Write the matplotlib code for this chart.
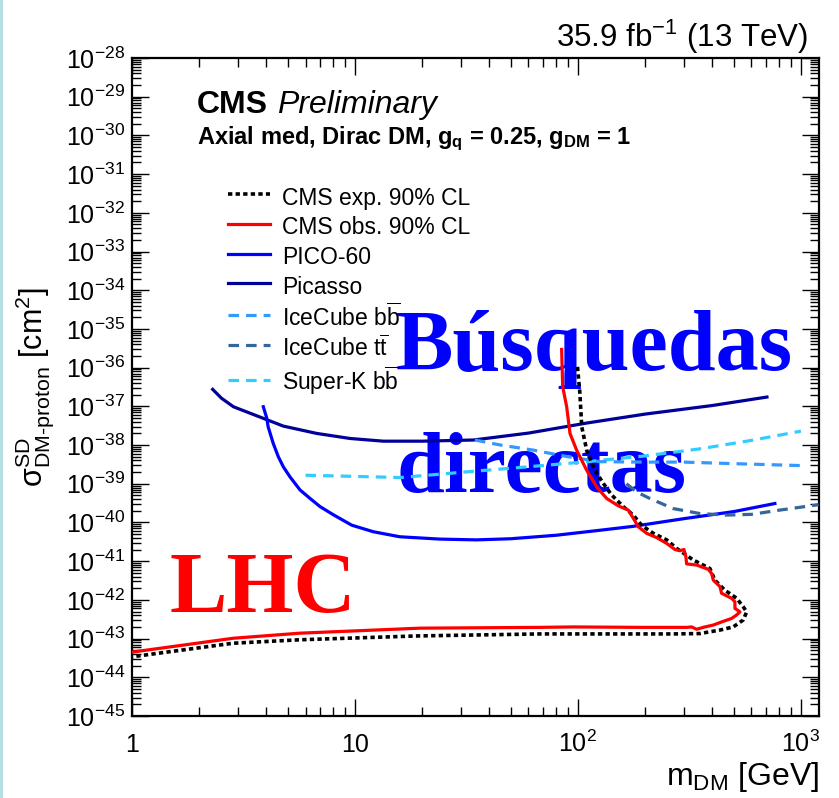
import numpy as np
import matplotlib
matplotlib.use("Agg")
import matplotlib.pyplot as plt
from matplotlib.lines import Line2D
from matplotlib.patches import Rectangle
from matplotlib.ticker import FixedLocator, FixedFormatter, LogLocator, NullFormatter

plt.rcParams['font.family'] = ['Liberation Sans', 'DejaVu Sans']
plt.rcParams['mathtext.fontset'] = 'custom'
plt.rcParams['mathtext.rm'] = 'Liberation Sans'
plt.rcParams['mathtext.it'] = 'Liberation Sans:italic'
plt.rcParams['mathtext.bf'] = 'Liberation Sans:bold'
plt.rcParams['mathtext.sf'] = 'Liberation Sans'
plt.rcParams['mathtext.default'] = 'regular'

# ---------------- data ----------------
picasso_m = [2.3, 2.52, 2.85, 3.88, 4.77, 6.73, 9.5, 13.4, 20, 34, 60, 110, 200, 400, 704]
picasso_s = [2.75e-37, 1.62e-37, 9.77e-38, 4.90e-38, 3.09e-38, 2.0e-38, 1.48e-38, 1.26e-38,
             1.26e-38, 1.35e-38, 2.04e-38, 3.72e-38, 6.31e-38, 1.05e-37, 1.74e-37]

pico_m = [3.88, 4.02, 4.08, 4.30, 4.53, 4.77, 5.11, 5.67, 6.29, 6.97, 8.0, 9.67, 12.1, 15.9,
          24, 35, 50, 80, 126, 177, 300, 500, 764]
pico_s = [9.77e-38, 5.01e-38, 2.95e-38, 1.10e-38, 5.01e-39, 2.75e-39, 1.51e-39, 6.92e-40,
          4.17e-40, 2.57e-40, 1.58e-40, 8.51e-41, 5.75e-41, 4.27e-41, 3.72e-41, 3.55e-41,
          3.80e-41, 4.68e-41, 6.31e-41, 7.94e-41, 1.26e-40, 1.91e-40, 3.09e-40]

superk_m = [6.0, 10, 16, 32, 60, 110, 200, 350, 600, 1000]
superk_s = [1.66e-39, 1.55e-39, 1.45e-39, 2.04e-39, 2.75e-39, 3.72e-39, 5.25e-39, 7.94e-39,
            1.32e-38, 2.29e-38]

icbb_m = [34.5, 45, 63, 90, 125, 200, 296, 500, 1000]
icbb_s = [1.35e-38, 1.0e-38, 7.41e-39, 5.01e-39, 3.72e-39, 3.63e-39, 3.63e-39, 3.31e-39, 2.95e-39]

ictt_m = [165, 183, 210, 267, 352, 464, 600, 805, 1200]
ictt_s = [1.0e-39, 6.17e-40, 4.17e-40, 2.29e-40, 1.70e-40, 1.55e-40, 1.62e-40, 2.09e-40, 2.88e-40]

obs_m = [84.5, 85.4, 89.0, 92.1, 98.6, 109.4, 121.3, 134.5, 151.7, 168.2, 177.0, 186.4, 203.2,
         225.3, 249.9, 272.3, 286.6, 298.7, 304.9, 307.1, 340.6, 383.9, 397.7, 404.5, 433.5,
         440.6, 488.5, 505.8, 505.8, 532.6, 514.6, 488.5, 440.6, 404.5, 364.6, 340.6, 323.5,
         307.1, 189.7, 95.3, 67.6, 19.6, 5.67, 2.84, 1.0]
obs_s = [2.95e-36, 3.24e-37, 9.77e-38, 2.00e-38, 7.41e-39, 2.24e-39, 8.32e-40, 4.17e-40,
         2.69e-40, 2.09e-40, 1.29e-40, 7.76e-41, 5.25e-41, 4.07e-41, 2.88e-41, 2.00e-41,
         1.86e-41, 2.00e-41, 1.29e-41, 8.51e-42, 7.94e-42, 6.17e-42, 4.79e-42, 3.24e-42,
         2.19e-42, 1.48e-42, 1.10e-42, 8.91e-43, 6.03e-43, 4.90e-43, 4.07e-43, 3.31e-43,
         2.69e-43, 2.24e-43, 1.95e-43, 1.74e-43, 2.00e-43, 1.95e-43, 1.95e-43, 2.00e-43,
         1.95e-43, 1.86e-43, 1.38e-43, 1.02e-43, 4.47e-44]

exp_m = [99.5, 102, 104, 109.4, 119, 130, 141.6, 159.7, 177, 192.9, 217.6, 249.9, 277, 329,
         390.8, 411, 456, 515, 551, 571, 551, 497, 433, 352, 267, 134.5, 67.6, 18.9, 5.67,
         2.84, 1.0]
exp_s = [1.05e-36, 2.19e-37, 2.95e-38, 7.41e-39, 2.24e-39, 1.02e-39, 5.13e-40, 2.57e-40,
         1.55e-40, 8.51e-41, 5.25e-41, 3.55e-41, 2.14e-41, 1.07e-41, 6.46e-42, 3.24e-42,
         1.78e-42, 1.10e-42, 6.61e-43, 4.90e-43, 3.02e-43, 2.00e-43, 1.66e-43, 1.35e-43,
         1.32e-43, 1.32e-43, 1.32e-43, 1.17e-43, 9.33e-44, 7.59e-44, 3.39e-44]

x_ticks = [1, 10, 100, 1000]
x_tick_labels = ['1', '10', r'$10^{2}$', r'$10^{3}$']
y_exponents = list(range(-45, -27))
y_ticks = [10.0 ** e for e in y_exponents]
y_tick_labels = [r'$10^{%d}$' % e for e in y_exponents]

legend_labels = ['CMS exp. 90% CL', 'CMS obs. 90% CL', 'PICO-60', 'Picasso',
                 r'IceCube b$\overline{b}$', r'IceCube t$\overline{t}$', r'Super-K b$\overline{b}$']

# ---------------- figure ----------------
W, H = 839, 798
fig = plt.figure(figsize=(W / 100, H / 100), dpi=100)
fig.patch.set_facecolor('white')
fig.patches.append(Rectangle((0, 0), 3 / W, 1, transform=fig.transFigure,
                             facecolor='#b6dfe4', edgecolor='none', zorder=-5))

def fx(px):
    return px / W

def fy(py):
    return 1 - py / H

ax = fig.add_axes([fx(132), fy(716), (819 - 132) / W, (716 - 58) / H])
ax.set_xscale('log')
ax.set_yscale('log')
ax.set_xlim(1, 1205)
ax.set_ylim(1e-45, 1e-28)

lw = 2.3
dash = (0, (3.3, 2.2))
dot = (0, (1.2, 0.9))
c_pico = '#0000ff'
c_picasso = '#000099'
c_icbb = '#3399ff'
c_ictt = '#336699'
c_superk = '#33ccff'
c_obs = '#ff0000'

ax.plot(picasso_m, picasso_s, color=c_picasso, lw=lw, zorder=3)
ax.plot(pico_m, pico_s, color=c_pico, lw=lw, zorder=3)
ax.plot(superk_m, superk_s, color=c_superk, lw=lw, ls=dash, zorder=3)
ax.plot(icbb_m, icbb_s, color=c_icbb, lw=lw, ls=dash, zorder=3)
ax.plot(ictt_m, ictt_s, color=c_ictt, lw=lw, ls=dash, zorder=3)
ax.plot(exp_m, exp_s, color='black', lw=2.6, ls=dot, zorder=4)
ax.plot(obs_m, obs_s, color=c_obs, lw=lw, zorder=5)

# axes styling
for sp in ax.spines.values():
    sp.set_linewidth(1.6)
ax.xaxis.set_major_locator(FixedLocator(x_ticks))
ax.xaxis.set_major_formatter(FixedFormatter(x_tick_labels))
ax.xaxis.set_minor_locator(LogLocator(base=10, subs=np.arange(2, 10), numticks=100))
ax.xaxis.set_minor_formatter(NullFormatter())
ax.yaxis.set_major_locator(FixedLocator(y_ticks))
ax.yaxis.set_major_formatter(FixedFormatter(y_tick_labels))
ax.yaxis.set_minor_locator(LogLocator(base=10, subs=np.arange(2, 10), numticks=100))
ax.yaxis.set_minor_formatter(NullFormatter())
ax.tick_params(which='both', direction='in', top=True, right=True, width=1.0, colors='black')
ax.tick_params(which='major', length=12.5)
ax.tick_params(which='minor', length=6.5)
ax.tick_params(axis='y', labelsize=18, pad=5)
ax.tick_params(axis='x', labelsize=18, pad=26)
for lbl in ax.get_xticklabels():
    lbl.set_verticalalignment('baseline')

ax.set_xlabel(r'm$_{DM}$ [GeV]', fontsize=23, ha='right')
ax.xaxis.set_label_coords(1.0, (716 - 760) / 658)
ax.set_ylabel(r'$\sigma^{SD}_{DM\text{-}proton}$ [cm$^{2}$]', fontsize=22, va='center')
ax.yaxis.set_label_coords((35 - 132) / 687, 0.5)

# texts
ax.text(fx(808), fy(47), r'35.9 fb$^{-1}$ (13 TeV)', transform=fig.transFigure,
        ha='right', va='baseline', fontsize=22.5)
ax.text(fx(197), fy(113), 'CMS', transform=fig.transFigure, ha='left', va='baseline',
        fontsize=23, fontweight='bold')
ax.text(fx(277), fy(113), 'Preliminary', transform=fig.transFigure, ha='left', va='baseline',
        fontsize=23, fontstyle='italic')
ax.text(fx(197), fy(144), r'Axial med, Dirac DM, g$_{\mathbf{q}}$ = 0.25, g$_{\mathbf{DM}}$ = 1',
        transform=fig.transFigure, ha='left', va='baseline', fontsize=17, fontweight='bold')

big = dict(transform=fig.transFigure, ha='left', va='baseline', fontweight='bold',
           family=['Liberation Serif', 'DejaVu Serif'], zorder=1)
ax.text(fx(396), fy(370), 'Búsquedas', fontsize=62, color='#0000ff', **big)
ax.text(fx(396), fy(492), 'directas', fontsize=62, color='#0000ff', **big)
ax.text(fx(170), fy(612), 'LHC', fontsize=62, color='#ff0000', **big)

# legend
handles = [
    Line2D([], [], color='black', lw=2.6, ls=dot),
    Line2D([], [], color=c_obs, lw=lw),
    Line2D([], [], color=c_pico, lw=lw),
    Line2D([], [], color=c_picasso, lw=lw),
    Line2D([], [], color=c_icbb, lw=lw, ls=dash),
    Line2D([], [], color=c_ictt, lw=lw, ls=dash),
    Line2D([], [], color=c_superk, lw=lw, ls=dash),
]
leg = ax.legend(handles, legend_labels, loc='upper left',
                bbox_to_anchor=(fx(228), fy(184)), bbox_transform=fig.transFigure,
                frameon=False, fontsize=16.5, handlelength=1.85, handletextpad=0.52,
                handleheight=1.35, labelspacing=0.175, borderpad=0, borderaxespad=0)
leg.set_zorder(6)

fig.savefig('out.png', dpi=100, facecolor='white')
